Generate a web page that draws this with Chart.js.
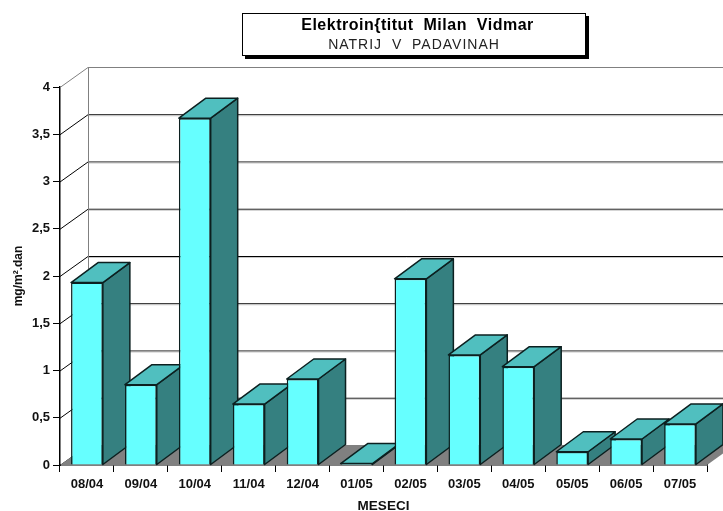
<!DOCTYPE html>
<html>
<head>
<meta charset="utf-8">
<title>Natrij v padavinah</title>
<script src="https://cdn.jsdelivr.net/npm/chart.js@4"></script>
<style>
    html, body { margin: 0; padding: 0; background: #fff; }
    canvas { display: block; }
</style>
</head>
<body>
<canvas id="natrijChart" width="723" height="511"></canvas>
<script>
const months = ['08/04', '09/04', '10/04', '11/04', '12/04', '01/05', '02/05', '03/05', '04/05', '05/05', '06/05', '07/05'];
const natrij = [1.93, 0.85, 3.67, 0.645, 0.91, 0.015, 1.97, 1.165, 1.04, 0.14, 0.275, 0.435];
const yTicks = [0, 0.5, 1, 1.5, 2, 2.5, 3, 3.5, 4];
const titleText = 'Elektroin{titut  Milan  Vidmar';
const subtitleText = 'NATRIJ  V  PADAVINAH';
const yLabel = 'mg/m\u00B2.dan';
const xLabel = 'MESECI';

const FONT = '"Liberation Sans", Arial, sans-serif';
const DEPTH_X = 27;
const DEPTH_Y = 20;
const WALL_X = 28;

// 3D room and bar sides, drawn behind the library's own bars
const room3d = {
    id: 'room3d',
    beforeDatasetsDraw(chart) {
        const ctx = chart.ctx;
        const area = chart.chartArea;
        const y = chart.scales.y;
        const base = y.getPixelForValue(0);
        ctx.save();

        // back wall lines and left wall diagonals
        yTicks.forEach(v => {
            const py = y.getPixelForValue(v);
            const top = v === 4;
            ctx.strokeStyle = top ? '#808080' : '#000';
            ctx.lineWidth = 1;
            ctx.beginPath();
            ctx.moveTo(area.left, py + 0.5);
            ctx.lineTo(area.left + WALL_X, py - DEPTH_Y + 0.5);
            ctx.lineTo(area.right + WALL_X, py - DEPTH_Y + 0.5);
            ctx.stroke();
            if (!top) {
                ctx.strokeStyle = '#c8c8c8';
                ctx.beginPath();
                ctx.moveTo(area.left + WALL_X + 1, py - DEPTH_Y + 1.5);
                ctx.lineTo(area.right + WALL_X, py - DEPTH_Y + 1.5);
                ctx.stroke();
            }
        });

        // back corner
        ctx.strokeStyle = '#808080';
        ctx.lineWidth = 1;
        ctx.beginPath();
        ctx.moveTo(area.left + WALL_X + 0.5, y.getPixelForValue(4) - DEPTH_Y);
        ctx.lineTo(area.left + WALL_X + 0.5, base - DEPTH_Y);
        ctx.stroke();

        // floor
        ctx.fillStyle = '#808080';
        ctx.beginPath();
        ctx.moveTo(area.left, base);
        ctx.lineTo(area.left + WALL_X, base - DEPTH_Y);
        ctx.lineTo(area.right + WALL_X, base - DEPTH_Y);
        ctx.lineTo(area.right, base);
        ctx.closePath();
        ctx.fill();

        // bar sides and tops, left to right
        ctx.strokeStyle = '#0c2020';
        ctx.lineWidth = 1.5;
        ctx.lineJoin = 'round';
        chart.getDatasetMeta(0).data.forEach(bar => {
            const left = bar.x - bar.width / 2;
            const right = bar.x + bar.width / 2;
            ctx.fillStyle = '#358080';
            ctx.beginPath();
            ctx.moveTo(right, bar.y);
            ctx.lineTo(right + DEPTH_X, bar.y - DEPTH_Y);
            ctx.lineTo(right + DEPTH_X, bar.base - DEPTH_Y);
            ctx.lineTo(right, bar.base);
            ctx.closePath();
            ctx.fill();
            ctx.stroke();
            ctx.fillStyle = '#50BFBF';
            ctx.beginPath();
            ctx.moveTo(left, bar.y);
            ctx.lineTo(left + DEPTH_X, bar.y - DEPTH_Y);
            ctx.lineTo(right + DEPTH_X, bar.y - DEPTH_Y);
            ctx.lineTo(right, bar.y);
            ctx.closePath();
            ctx.fill();
            ctx.stroke();
        });
        ctx.restore();
    }
};

// Title box with its drop shadow
const titleBox = {
    id: 'titleBox',
    afterDraw(chart) {
        const ctx = chart.ctx;
        ctx.save();
        ctx.fillStyle = '#000';
        ctx.fillRect(245, 16, 344, 43);
        ctx.fillStyle = '#fff';
        ctx.fillRect(242, 13, 344, 43);
        ctx.strokeStyle = '#000';
        ctx.lineWidth = 1;
        ctx.strokeRect(242.5, 13.5, 343, 42);
        ctx.textAlign = 'center';
        ctx.fillStyle = '#000';
        ctx.font = 'bold 16px ' + FONT;
        ctx.letterSpacing = '0.5px';
        ctx.fillText(titleText, 417.5, 30);
        ctx.fillStyle = '#222';
        ctx.font = '14px ' + FONT;
        ctx.letterSpacing = '1px';
        ctx.fillText(subtitleText, 414, 49);
        ctx.restore();
    }
};

new Chart(document.getElementById('natrijChart'), {
    type: 'bar',
    data: {
        labels: months,
        datasets: [{
            data: natrij,
            backgroundColor: '#66FFFF',
            borderColor: '#0c2020',
            borderWidth: 1.5,
            categoryPercentage: 1,
            barPercentage: 0.59
        }]
    },
    options: {
        responsive: false,
        animation: false,
        layout: { padding: { top: 87, right: 16, left: 0, bottom: 0 } },
        plugins: {
            legend: { display: false },
            tooltip: { enabled: false }
        },
        scales: {
            x: {
                grid: { drawOnChartArea: false, tickLength: 7, color: '#000', lineWidth: 1 },
                border: { color: '#000', width: 1.5 },
                ticks: {
                    color: '#111',
                    font: { family: FONT, size: 13, weight: 'bold' },
                    padding: 5,
                    maxRotation: 0,
                    autoSkip: false
                },
                title: {
                    display: true,
                    text: xLabel,
                    color: '#111',
                    font: { family: FONT, size: 13.5, weight: 'bold' },
                    padding: { top: 0, bottom: -3 }
                },
                afterFit(scale) { scale.height = 46; }
            },
            y: {
                min: 0,
                max: 4,
                grid: { drawOnChartArea: false, tickLength: 7, color: '#000', lineWidth: 1 },
                border: { color: '#000', width: 1.5 },
                afterBuildTicks(scale) { scale.ticks = yTicks.map(value => ({ value })); },
                ticks: {
                    color: '#111',
                    font: { family: FONT, size: 13, weight: 'bold' },
                    padding: 3,
                    callback: value => String(value).replace('.', ',')
                },
                title: {
                    display: true,
                    text: yLabel,
                    color: '#111',
                    font: { family: FONT, size: 12, weight: 'bold' },
                    padding: { top: 11, bottom: 0 }
                },
                afterFit(scale) { scale.width = 60; }
            }
        }
    },
    plugins: [room3d, titleBox]
});
</script>
</body>
</html>
